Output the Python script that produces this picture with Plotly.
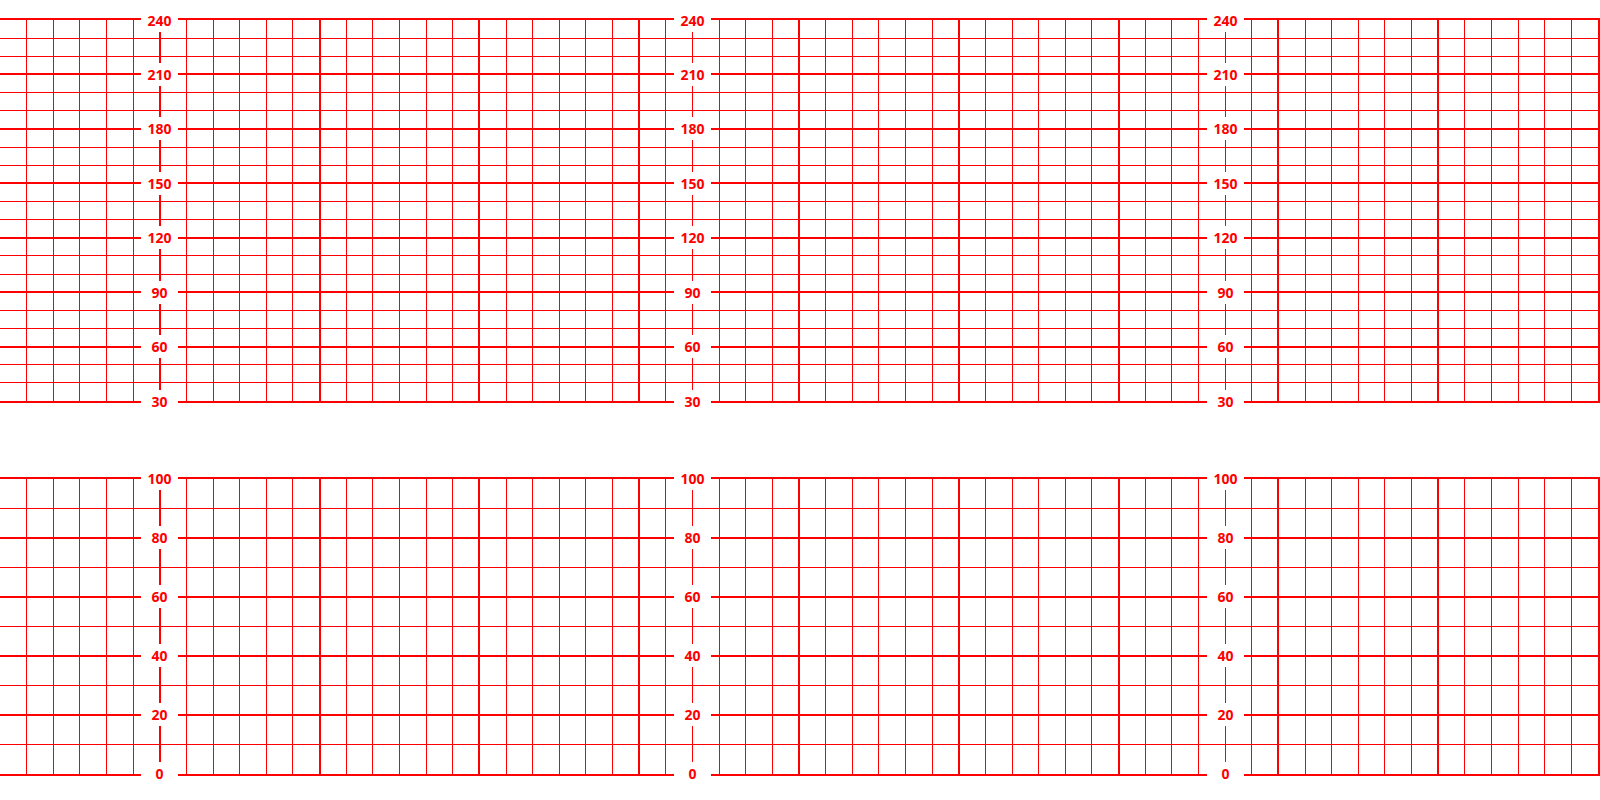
import plotly.graph_objects as go

# Time axis in seconds (10 minutes of paper), minor grid every 10 s, major every 60 s
time_range = [0, 600]
label_times = [60, 260, 460]

# Fetal heart rate panel (bpm)
fhr_range = [30, 240]
fhr_labels = [30, 60, 90, 120, 150, 180, 210, 240]

# Uterine contraction panel (mmHg)
uc_range = [0, 100]
uc_labels = [0, 20, 40, 60, 80, 100]

RED = "#ff0000"

fig = go.Figure()

# invisible traces to instantiate the axes
fig.add_trace(go.Scatter(x=time_range, y=fhr_range, mode="markers",
                         marker=dict(opacity=0), hoverinfo="skip",
                         showlegend=False, xaxis="x", yaxis="y"))
fig.add_trace(go.Scatter(x=time_range, y=uc_range, mode="markers",
                         marker=dict(opacity=0), hoverinfo="skip",
                         showlegend=False, xaxis="x2", yaxis="y2"))

common_x = dict(range=time_range, tick0=0, dtick=60, showgrid=True,
                gridcolor=RED, gridwidth=2, showticklabels=False, ticks="",
                zeroline=False, showline=True, mirror=True, linecolor=RED,
                linewidth=2, fixedrange=True,
                minor=dict(dtick=10, tick0=0, showgrid=True, gridcolor=RED,
                           gridwidth=1, ticks=""))

fig.update_layout(
    width=1600, height=800,
    margin=dict(l=0, r=0, t=20, b=26),
    paper_bgcolor="white", plot_bgcolor="white",
    showlegend=False,
    xaxis=dict(domain=[0, 1], anchor="y", **common_x),
    xaxis2=dict(domain=[0, 1], anchor="y2", **common_x),
    yaxis=dict(domain=[0.4947, 1], anchor="x", range=fhr_range, tick0=30,
               dtick=30, showgrid=True, gridcolor=RED, gridwidth=2,
               showticklabels=False, ticks="", zeroline=False, showline=True,
               mirror=True, linecolor=RED, linewidth=2, fixedrange=True,
               minor=dict(dtick=10, tick0=30, showgrid=True, gridcolor=RED,
                          gridwidth=1, ticks="")),
    yaxis2=dict(domain=[0, 0.3915], anchor="x2", range=uc_range, tick0=0,
                dtick=20, showgrid=True, gridcolor=RED, gridwidth=2,
                showticklabels=False, ticks="", zeroline=False, showline=True,
                mirror=True, linecolor=RED, linewidth=2, fixedrange=True,
                minor=dict(dtick=10, tick0=0, showgrid=True, gridcolor=RED,
                           gridwidth=1, ticks="")),
)

label_font = dict(family="Open Sans", size=14, color=RED, weight="bold")
annotations = []
for t in label_times:
    for v in fhr_labels:
        annotations.append(dict(x=t, y=v, xref="x", yref="y", text=str(v),
                                showarrow=False, bgcolor="white",
                                font=label_font, width=31, height=17,
                                borderpad=3, borderwidth=0,
                                xanchor="center", yanchor="middle"))
    for v in uc_labels:
        annotations.append(dict(x=t, y=v, xref="x2", yref="y2", text=str(v),
                                showarrow=False, bgcolor="white",
                                font=label_font, width=31, height=17,
                                borderpad=3, borderwidth=0,
                                xanchor="center", yanchor="middle"))
fig.update_layout(annotations=annotations)

fig.write_html("out.html", config=dict(displayModeBar=False),
               post_script="document.body.style.margin='0';"
                           "document.body.style.overflow='hidden';")
